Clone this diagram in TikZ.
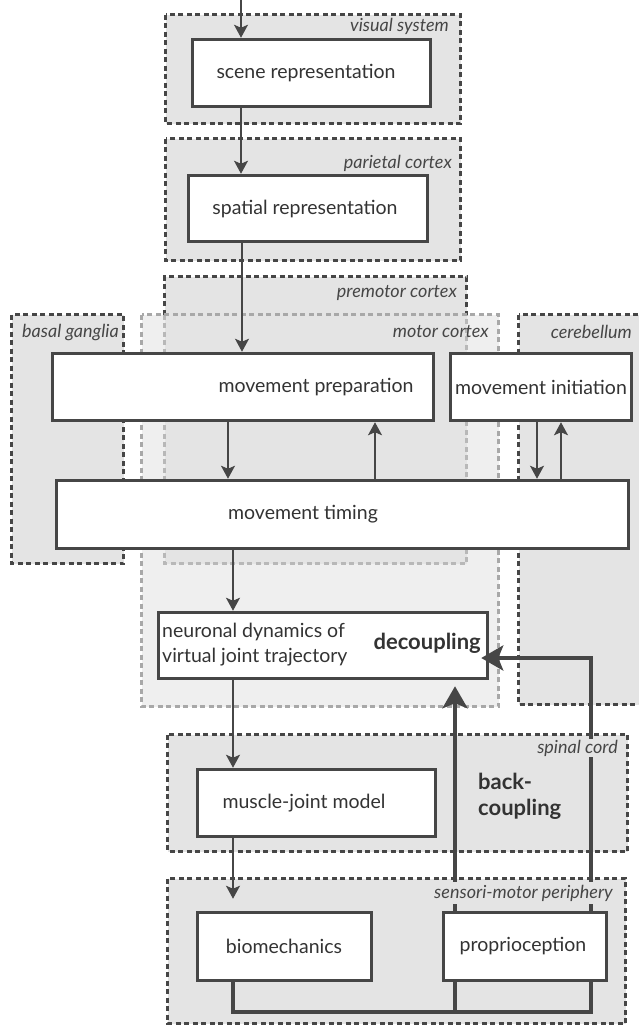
\documentclass[tikz,border=0pt]{standalone}
\usepackage{fontspec}
\setmainfont{Lato}
\usetikzlibrary{arrows.meta,calc}
\definecolor{dgray}{HTML}{464646}
\definecolor{tgray}{HTML}{333333}
\definecolor{regfill}{HTML}{E4E4E4}
\definecolor{motfill}{HTML}{EFEFEF}
\definecolor{lgray}{HTML}{A8A8A8}
\definecolor{llgray}{HTML}{B8B8B8}
\tikzset{
  box/.style={draw=dgray, line width=3.5pt, fill=white, inner sep=0pt},
  btxt/.style={text=tgray, font=\fontsize{19.5}{22}\selectfont, inner sep=0pt},
  bold/.style={text=tgray, font=\bfseries\fontsize{22}{24}\selectfont, inner sep=0pt, align=left},
  region/.style={draw=dgray, line width=3pt, dash pattern=on 5pt off 3.5pt, fill=regfill},
  regline/.style={line width=3pt, dash pattern=on 5pt off 3.5pt},
  rlabel/.style={text=dgray, font=\itshape\fontsize{18}{20}\selectfont, anchor=east, inner sep=1pt},
  arr/.style={draw=dgray, line width=1.7pt, -{Stealth[length=13pt,width=14pt,inset=3pt]}},
  fb/.style={draw=dgray, line width=4pt},
  fbarr/.style={draw=dgray, line width=4pt, -{Stealth[length=22pt,width=25pt,inset=5pt]}},
}
\begin{document}
\begin{tikzpicture}[x=1pt,y=-1pt]
\clip (0,0) rectangle (639,1028);
% ---- regions
\draw[region] (165.5,14.5) rectangle (460.5,123.5);
\draw[region] (165.5,138.5) rectangle (460.5,260.5);
\draw[region] (11.5,314.5) rectangle (123.5,563.5);
\draw[region] (518.5,314.5) rectangle (660,704.5);
\fill[motfill] (141.5,314.5) rectangle (498.5,706.5);
\fill[regfill] (164.5,276.5) rectangle (466.5,563.5);
\draw[regline, dgray] (164.5,314.5) -- (164.5,276.5) -- (466.5,276.5) -- (466.5,314.5);
\draw[regline, llgray] (164.5,314.5) -- (164.5,563.5) -- (466.5,563.5) -- (466.5,314.5);
\draw[regline, lgray] (141.5,314.5) rectangle (498.5,706.5);
\draw[region] (167.5,734.5) rectangle (627.5,851.5);
\draw[region] (167.5,878.5) rectangle (625.5,1023.5);
% ---- boxes
\node[box, minimum width=238pt, minimum height=67pt] (scene) at (311.5,73) {};
\node[btxt] at (306,73) {scene representation};
\node[box, minimum width=239pt, minimum height=66pt] (spatial) at (308,208.5) {};
\node[btxt] at (305,208.5) {spatial representation};
\node[box, minimum width=381pt, minimum height=67pt] (prep) at (243,387) {};
\node[btxt] at (316,387) {movement preparation};
\node[box, minimum width=181pt, minimum height=67pt] (init) at (541,387) {};
\node[btxt] at (541,387) {movement initiation};
\node[box, minimum width=572pt, minimum height=68pt] (timing) at (342.5,514.5) {};
\node[btxt] at (303,514.5) {movement timing};
\node[box, minimum width=329pt, minimum height=66pt] (neur) at (323,645.5) {};
\node[btxt, align=left, anchor=west, font=\fontsize{19.5}{25}\selectfont] at (162,645) {neuronal dynamics of\\virtual joint trajectory};
\node[bold, anchor=east] at (481,643) {decoupling};
\node[box, minimum width=238pt, minimum height=67pt] (muscle) at (316.5,803) {};
\node[btxt] at (304,803) {muscle-joint model};
\node[bold, anchor=west, font=\bfseries\fontsize{22}{26}\selectfont] at (478,796) {back-\\coupling};
\node[box, minimum width=174pt, minimum height=68pt] (bio) at (284.5,946.5) {};
\node[btxt] at (284,946.5) {biomechanics};
\node[box, minimum width=163pt, minimum height=68pt] (prop) at (525,946.5) {};
\node[btxt] at (523,946.5) {proprioception};
% ---- arrows
\coordinate (in) at (241,0);
\draw[arr] (in) -- (scene.north -| in);
\draw[arr] (scene.south -| 241,0) -- (spatial.north -| 241,0);
\draw[arr] (spatial.south -| 242,0) -- (prep.north -| 242,0);
\draw[arr] (prep.south -| 228,0) -- (timing.north -| 228,0);
\draw[arr] (timing.north -| 375,0) -- (prep.south -| 375,0);
\draw[arr] (init.south -| 537,0) -- (timing.north -| 537,0);
\draw[arr] (timing.north -| 561,0) -- (init.south -| 561,0);
\draw[arr] (timing.south -| 233,0) -- (neur.north -| 233,0);
\draw[arr] (neur.south -| 233,0) -- (muscle.north -| 233,0);
\draw[arr] (muscle.south -| 233,0) -- ([yshift=12pt]bio.north -| 233,0);
% ---- back-coupling
\draw[fb] (bio.south -| 233,0) |- (591,1012) -- (prop.south -| 591,0);
\draw[fb] (prop.south -| 455,0) -- (455,1012);
\draw[fbarr] (prop.north -| 455,0) -- ([yshift=-6pt]neur.south -| 455,0);
\draw[fbarr] (prop.north -| 591,0) -- (591,658) -- ([xshift=-8pt]neur.east |- 0,658);
% ---- region labels
\node[rlabel] at (450,26) {visual system};
\node[rlabel] at (453,163) {parietal cortex};
\node[rlabel] at (458,293) {premotor cortex};
\node[rlabel] at (490,332) {motor cortex};
\node[rlabel] at (120,333) {basal ganglia};
\node[rlabel] at (633,332) {cerebellum};
\node[rlabel, fill=regfill] at (619,748) {spinal cord};
\node[rlabel, fill=regfill, inner ysep=3pt] at (614,893) {sensori-motor periphery};
\end{tikzpicture}
\end{document}
